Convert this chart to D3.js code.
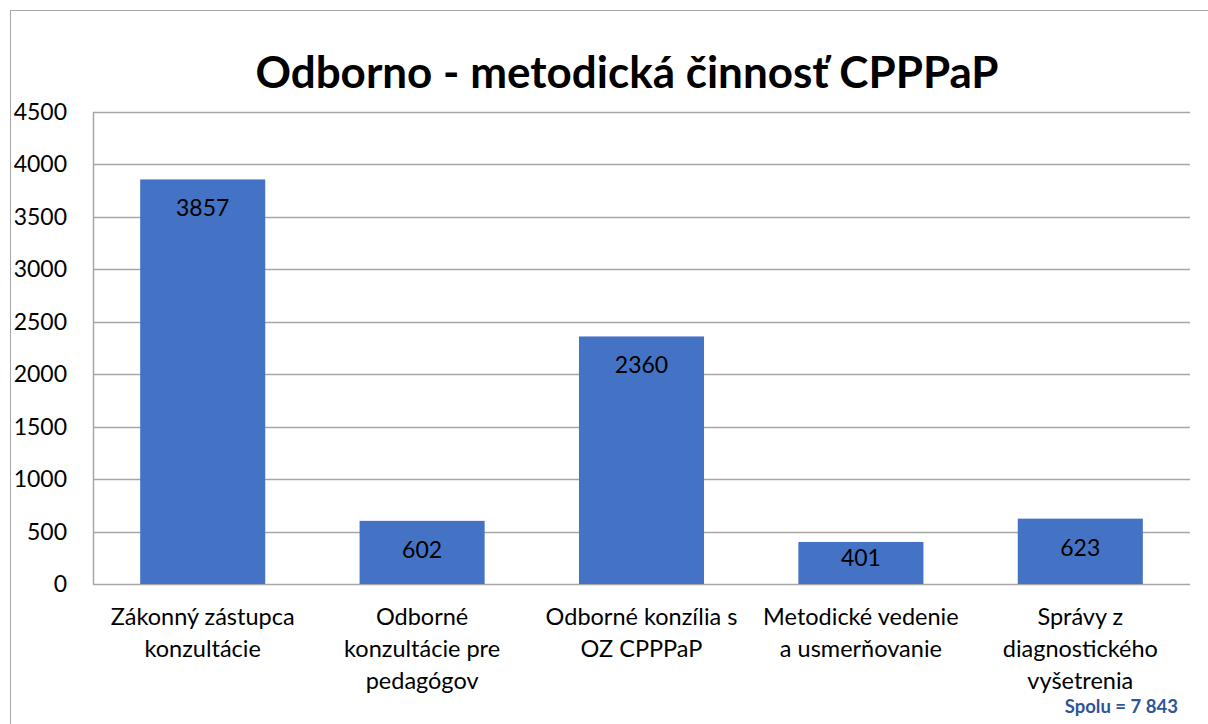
<!DOCTYPE html>
<html lang="sk">
<head>
<meta charset="UTF-8">
<title>Odborno - metodická činnosť CPPPaP</title>
<script src="https://cdn.jsdelivr.net/npm/d3@7"></script>
<style>
  body { margin: 0; background: #fff; }
  svg { display: block; font-family: Lato, "Open Sans", sans-serif; }
</style>
</head>
<body>
<svg id="chart" width="1208" height="724"></svg>
<script>
  // data
  var categories = [
    ["Zákonný zástupca", "konzultácie"],
    ["Odborné", "konzultácie pre", "pedagógov"],
    ["Odborné konzília s", "OZ CPPPaP"],
    ["Metodické vedenie", "a usmerňovanie"],
    ["Správy z", "diagnostického", "vyšetrenia"]
  ]
  var values = [3857, 602, 2360, 401, 623]
  var yTicks = [0, 500, 1000, 1500, 2000, 2500, 3000, 3500, 4000, 4500]
  var title = "Odborno - metodická činnosť CPPPaP"
  var totalText = "Spolu = 7 843"

  var svg = d3.select("#chart")
  var plotLeft = 93, plotRight = 1190, plotTop = 112, plotBottom = 584

  // outer chart border
  svg.append("rect")
    .attr("x", 10.5).attr("y", 10.5)
    .attr("width", 1220).attr("height", 740)
    .style("fill", "none").style("stroke", "#a6a6a6").style("stroke-width", 1)

  var x = d3.scaleBand().domain(d3.range(values.length)).range([plotLeft, plotRight]).paddingInner(0.43).paddingOuter(0.215)
  var y = d3.scaleLinear().domain([0, 4500]).range([plotBottom, plotTop])

  // gridlines
  svg.append("g")
    .selectAll("line")
    .data(yTicks)
    .enter()
    .append("line")
    .attr("x1", plotLeft).attr("x2", plotRight)
    .attr("y1", function (d) { return Math.round(y(d)) + 0.5 })
    .attr("y2", function (d) { return Math.round(y(d)) + 0.5 })
    .style("stroke", "#a6a6a6").style("stroke-width", 1.5)

  // y axis line
  svg.append("line")
    .attr("x1", plotLeft + 0.5).attr("x2", plotLeft + 0.5)
    .attr("y1", plotTop).attr("y2", plotBottom)
    .style("stroke", "#a6a6a6").style("stroke-width", 1.5)

  // y tick labels
  svg.append("g")
    .selectAll("text")
    .data(yTicks)
    .enter()
    .append("text")
    .attr("x", 67)
    .attr("y", function (d) { return y(d) + 8 })
    .attr("text-anchor", "end")
    .style("font-size", "23px")
    .style("fill", "#000")
    .text(function (d) { return d })

  // bars
  svg.append("g")
    .selectAll("rect")
    .data(values)
    .enter()
    .append("rect")
    .attr("x", function (d, i) { return x(i) })
    .attr("y", function (d) { return y(d) })
    .attr("width", x.bandwidth())
    .attr("height", function (d) { return plotBottom - y(d) })
    .style("fill", "#4472c4")

  // value labels (inside end, pushed up for short bars)
  svg.append("g")
    .selectAll("text")
    .data(values)
    .enter()
    .append("text")
    .attr("x", function (d, i) { return x(i) + x.bandwidth() / 2 })
    .attr("y", function (d) { return Math.min(y(d) + 37, plotBottom - 18) })
    .attr("text-anchor", "middle")
    .style("font-size", "23px")
    .style("fill", "#000")
    .text(function (d) { return d })

  // category labels
  var cat = svg.append("g")
    .selectAll("text")
    .data(categories)
    .enter()
    .append("text")
    .attr("text-anchor", "middle")
    .style("font-size", "23.5px")
    .style("fill", "#000")
  cat.selectAll("tspan")
    .data(function (d, i) { return d.map(function (s) { return { s: s, i: i } }) })
    .enter()
    .append("tspan")
    .attr("x", function (d) { return x(d.i) + x.bandwidth() / 2 })
    .attr("y", function (d, j) { return 625 + j * 32 })
    .text(function (d) { return d.s })

  // title
  svg.append("text")
    .attr("x", 627).attr("y", 88)
    .attr("text-anchor", "middle")
    .style("font-size", "44px")
    .style("font-weight", "bold")
    .style("fill", "#000")
    .text(title)

  svg.append("text")
    .attr("x", 1178).attr("y", 713)
    .attr("text-anchor", "end")
    .style("font-size", "18.5px")
    .style("font-weight", "bold")
    .style("fill", "#2f5597")
    .text(totalText)
</script>
</body>
</html>
